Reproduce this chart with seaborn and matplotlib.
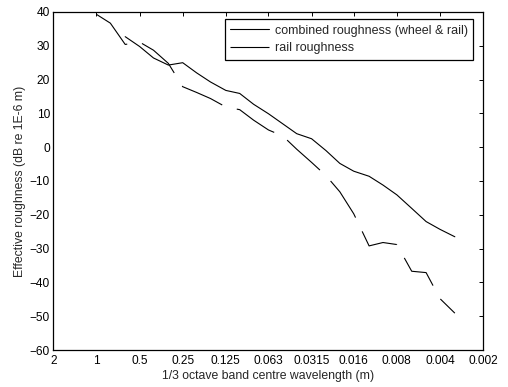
import matplotlib
matplotlib.use("Agg")
import matplotlib.pyplot as plt
import seaborn as sns
import pandas as pd

# 1/3 octave band centre wavelengths (m)
wavelength = [1, 0.8, 0.63, 0.5, 0.4, 0.315, 0.25, 0.2, 0.16, 0.125, 0.1, 0.08,
              0.063, 0.05, 0.04, 0.0315, 0.025, 0.02, 0.016, 0.0125, 0.01, 0.008,
              0.0063, 0.005, 0.004, 0.00315]
# combined roughness (wheel & rail), starts at 0.63 m
combined_wl = wavelength[2:]
combined = [32.7, 29.8, 26.4, 24.3, 25.0, 22.0, 19.3, 16.8, 15.9, 12.7, 9.9, 6.9,
            4.0, 2.5, -1.0, -4.8, -7.1, -8.6, -11.2, -14.1, -18.1, -22.0, -24.3, -26.5]
rail = [39.3, 36.7, 30.4, 31.1, 28.7, 24.8, 17.9, 16.2, 14.4, 11.9, 11.1, 8.0, 5.1,
        3.3, -0.6, -4.5, -8.4, -13.2, -19.7, -29.2, -28.2, -28.8, -36.7, -37.1,
        -44.8, -49.1]

xticks = [2, 1, 0.5, 0.25, 0.125, 0.063, 0.0315, 0.016, 0.008, 0.004, 0.002]
xticklabels = ["2", "1", "0.5", "0.25", "0.125", "0.063", "0.0315", "0.016",
               "0.008", "0.004", "0.002"]
yticks = [-60, -50, -40, -30, -20, -10, 0, 10, 20, 30, 40]

sns.set_style("white")
plt.rcParams["font.family"] = ["Liberation Sans", "DejaVu Sans"]
plt.rcParams["lines.scale_dashes"] = False

fig = plt.figure(figsize=(5.08, 3.87), dpi=100)
ax = fig.add_axes([0.105, 0.0956, 0.846, 0.8734])

df_c = pd.DataFrame({"wl": combined_wl, "v": combined})
df_r = pd.DataFrame({"wl": wavelength, "v": rail})

sns.lineplot(data=df_c, x="wl", y="v", ax=ax, sort=False, color="black",
             linewidth=0.8, label="combined roughness (wheel & rail)")
sns.lineplot(data=df_r, x="wl", y="v", ax=ax, sort=False, color="black",
             linewidth=0.8, label="rail roughness")
ax.lines[1].set_dashes((32, 11))

ax.set_xscale("log", base=2)
ax.set_xlim(2, 0.002)
ax.set_ylim(-60, 40)
ax.set_xticks(xticks)
ax.set_xticklabels(xticklabels)
ax.minorticks_off()
ax.set_yticks(yticks)
ax.tick_params(direction="in", top=True, right=True, length=2.8, width=0.7,
               labelsize=8.6, colors="black")
ax.tick_params(axis="y", pad=2.5)
ax.tick_params(axis="x", pad=3.5)

for s in ax.spines.values():
    s.set_visible(True)
    s.set_color("black")
    s.set_linewidth(0.9)

ax.set_xlabel("1/3 octave band centre wavelength (m)", fontsize=8.8, labelpad=2)
ax.set_ylabel("Effective roughness (dB re 1E-6 m)", fontsize=8.8, labelpad=3)

leg = ax.legend(loc="upper right", bbox_to_anchor=(0.977, 0.979), borderaxespad=0,
                fontsize=9, frameon=True, fancybox=False, handlelength=3.1,
                handletextpad=0.45, borderpad=0.45, labelspacing=0.45)
leg.get_frame().set_edgecolor("black")
leg.get_frame().set_linewidth(0.9)
leg.get_frame().set_alpha(1)

fig.savefig("out.png", dpi=100)
